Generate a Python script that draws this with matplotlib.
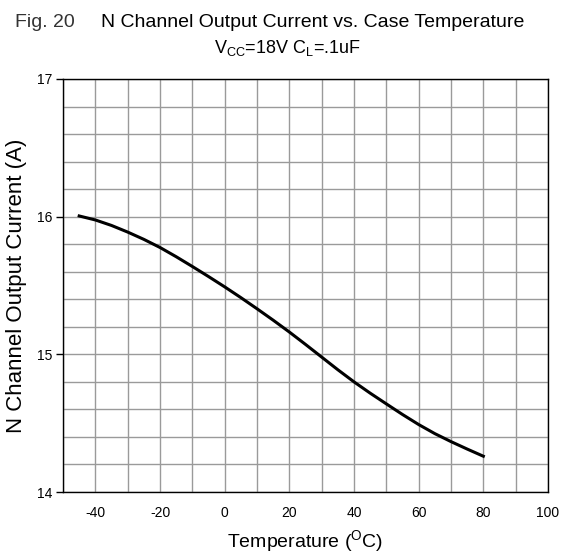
import matplotlib
matplotlib.use('Agg')
import matplotlib.pyplot as plt
from matplotlib.ticker import MultipleLocator

plt.rcParams['font.family'] = ['Liberation Sans', 'DejaVu Sans']
plt.rcParams['mathtext.fontset'] = 'custom'
plt.rcParams['mathtext.rm'] = 'Liberation Sans'
plt.rcParams['mathtext.it'] = 'Liberation Sans'
plt.rcParams['axes.unicode_minus'] = False

temp_c = [-45, -40, -35, -30, -25, -20, -15, -10, -5, 0, 5, 10, 15, 20,
          25, 30, 35, 40, 45, 50, 55, 60, 65, 70, 75, 80]
current_a = [16.005, 15.976, 15.936, 15.888, 15.835, 15.776, 15.709, 15.638,
             15.565, 15.49, 15.412, 15.331, 15.248, 15.162, 15.072, 14.98,
             14.888, 14.80, 14.718, 14.64, 14.563, 14.49, 14.424, 14.366,
             14.312, 14.26]

x_ticks = [-40, -20, 0, 20, 40, 60, 80, 100]
y_ticks = [14, 15, 16, 17]

fig = plt.figure(figsize=(5.74, 5.55), dpi=100)
ax = fig.add_axes([0.1098, 0.1135, 0.8449, 0.7442])

ax.plot(temp_c, current_a, color='black', linewidth=2.2, zorder=5,
        solid_joinstyle='round')

ax.set_xlim(-50, 100)
ax.set_ylim(14, 17)
ax.set_xticks(x_ticks)
ax.set_yticks(y_ticks)
ax.xaxis.set_minor_locator(MultipleLocator(10))
ax.yaxis.set_minor_locator(MultipleLocator(0.2))
ax.grid(True, which='both', color='#9a9a9a', linewidth=1.0)
ax.set_axisbelow(True)

ax.tick_params(axis='x', which='both', length=0, labelsize=10, pad=10)
ax.tick_params(axis='y', which='major', length=5, width=1, labelsize=10, pad=3)
ax.tick_params(axis='y', which='minor', length=0)

for s in ax.spines.values():
    s.set_color('black')
    s.set_linewidth(1.0)

ax.set_ylabel('N Channel Output Current (A)', fontsize=16, labelpad=7)
ax.set_xlabel(r'Temperature ($^{\mathrm{O}}$C)', fontsize=14, labelpad=6)

fig.text(0.026, 0.960, 'Fig. 20', fontsize=14, color='#333333', va='center', ha='left')
fig.text(0.176, 0.960, 'N Channel Output Current vs. Case Temperature', fontsize=14,
         va='center', ha='left')
fig.text(0.50, 0.913, r'V$_{\mathrm{CC}}$=18V C$_{\mathrm{L}}$=.1uF', fontsize=13,
         va='center', ha='center')

fig.savefig('out.png', dpi=100)
